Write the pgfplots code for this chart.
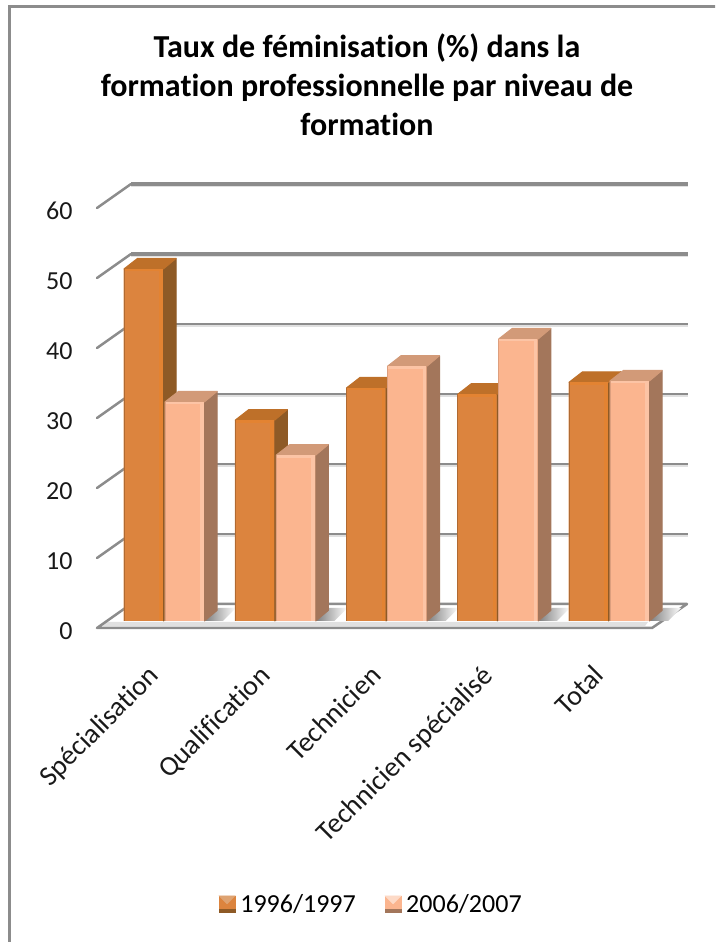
\documentclass[border=0pt]{standalone}
\usepackage{fontspec}
\setmainfont[RawFeature={-liga;-clig;-calt;-dlig}]{Carlito}
\usepackage{pgfplots}
\pgfplotsset{compat=1.18}
\definecolor{frontD}{HTML}{DC843E}
\definecolor{frontL}{HTML}{FBB58F}
\definecolor{sideD}{HTML}{8E5A26}
\definecolor{sideL}{HTML}{A3765B}
\definecolor{topD}{HTML}{BE7029}
\definecolor{topL}{HTML}{D29A78}
\definecolor{gridc}{HTML}{8C8C8C}

% 3D faces of a bar, hung on its top point; \vy is the value, 7pt per unit
\newcommand{\barfaces}[5]{%
  \pgfmathsetmacro\hh{7*\vy}%
  \pgftransformxshift{#1}%
  \pgfsetlinewidth{1pt}\pgfsetroundjoin
  \pgfsetfillcolor{#2}\pgfsetstrokecolor{#2}%
  \pgfpathmoveto{\pgfpoint{40pt}{0pt}}\pgfpathlineto{\pgfpoint{52.5pt}{10.5pt}}%
  \pgfpathlineto{\pgfpoint{52.5pt}{(10.5-\hh)*1pt}}\pgfpathlineto{\pgfpoint{40pt}{-\hh pt}}%
  \pgfpathclose\pgfusepath{fill,stroke}%
  \pgfsetfillcolor{#3}\pgfsetstrokecolor{#3}%
  \pgfpathmoveto{\pgfpoint{0.5pt}{0pt}}\pgfpathlineto{\pgfpoint{14pt}{10.5pt}}%
  \pgfpathlineto{\pgfpoint{52.5pt}{10.5pt}}\pgfpathlineto{\pgfpoint{40pt}{0pt}}%
  \pgfpathclose\pgfusepath{fill,stroke}%
  \pgfsetfillcolor{#4}%
  \pgfpathrectangle{\pgfpoint{0pt}{-\hh pt}}{\pgfpoint{1.2pt}{\hh pt}}\pgfusepath{fill}%
  \pgfsetfillcolor{#5}%
  \pgfpathrectangle{\pgfpoint{35.5pt}{-\hh pt}}{\pgfpoint{3.5pt}{\hh pt}}\pgfusepath{fill}%
  \pgfpathrectangle{\pgfpoint{1pt}{-2.5pt}}{\pgfpoint{38pt}{2.5pt}}\pgfusepath{fill}%
}
\pgfdeclareplotmark{facesD}{\barfaces{-40pt}{sideD}{topD}{frontD!80!black}{frontD!80!orange}}
\pgfdeclareplotmark{facesL}{\barfaces{1pt}{sideL}{topL}{frontL!88!black}{frontL!80!white}}

\pgfplotsset{
  barstyle/.style={ybar, bar width=40pt, draw=none, forget plot},
  facestyle/.style={only marks, scatter, scatter src=y, forget plot,
    visualization depends on={rawy \as \vy}},
  mainbox/.style={
    at={(97pt,314pt)}, anchor=south west, scale only axis,
    width=555pt, height=420pt, clip=false,
    xmin=-0.59775, xmax=4.39101,
    axis line style={draw=none}, tick style={draw=none},
  },
  % bars stand 7px above the front floor edge, so ymin=-1
  barbox/.style={mainbox, ymin=-1, ymax=59, ticks=none},
}

\newcommand{\legswatch}[3]{%
  \fill[#2] (0pt,-8pt) rectangle (16pt,8pt);
  \fill[#3] (0pt,8pt) -- (16pt,8pt) -- (8pt,0pt) -- cycle;
  \fill[#1] (0pt,-8pt) rectangle (16pt,-5pt);
}

\begin{document}
\begin{tikzpicture}
  \useasboundingbox (0,0) rectangle (715pt,942pt);
  \clip (0,0) rectangle (715pt,942pt);

  \begin{scope}[x=1pt,y=-1pt,yshift=942pt]
    \draw[gridc, line width=2.5pt] (9.5,950) -- (9.5,6.5) -- (725,6.5);
    % floor
    \fill[white] (97,628) -- (131,604) -- (687,604) -- (652,628) -- cycle;
    \fill[black!12] (104,622) -- (648,622) -- (645,626) -- (101,626) -- cycle;
    \draw[gridc, line width=2.5pt, line join=round] (97,628) -- (131,604) -- (687,604) -- (652,628) -- cycle;
    % walls
    \foreach \k in {1,...,6} {
      \pgfmathsetmacro\yb{604-70*\k}
      \pgfmathsetmacro\yf{628-70*\k}
      \pgfmathsetmacro\lw{\k>4 ? 3.5 : 2.2}
      \draw[black!12, line width=2pt] (131,\yb+2) -- (688,\yb+2);
      \draw[gridc, line width=\lw pt] (131,\yb) -- (688,\yb);
      \draw[gridc, line width=2.5pt, line cap=round] (97,\yf) -- (131,\yb);
    }
    % shadows on the floor
    \foreach \c in {0,...,4} {
      \pgfmathsetmacro\xs{205+111.25*\c}
      \shade[left color=black!50, right color=white]
        (\xs,621) -- (\xs+13,608) -- (\xs+31,608) -- (\xs+18,621) -- cycle;
    }
  \end{scope}

  % labels
  \begin{axis}[mainbox,
      ymin=0, ymax=60,
      ytick={0,10,...,60},
      xtick={0,1,2,3,4},
      xticklabels={Spécialisation,Qualification,Technicien,Technicien spécialisé,Total},
      /pgf/number format/assume math mode=true,
      ticklabel style={text=black!90},
      yticklabel style={font=\fontsize{26}{30}\selectfont, xshift=-21pt, yshift=-3pt},
      xticklabel style={font=\fontsize{28}{32}\selectfont, rotate=45, anchor=north east,
        yshift=-13pt, xshift=-37pt, inner sep=0pt},
      title={Taux de féminisation (\%) dans la\\formation professionnelle par niveau de\\formation},
      title style={at={(axis description cs:0.4865,1.278)}, anchor=center, align=center,
        font=\fontsize{32}{39}\selectfont\bfseries},
      legend columns=2,
      legend cell align=left,
      legend style={at={(axis description cs:0.497,-0.657)}, anchor=center, draw=none, fill=none,
        font=\fontsize{26}{30}\selectfont, nodes={inner xsep=5pt},
        /tikz/every even column/.append style={column sep=24pt}},
    ]
    \addlegendimage{legend image code/.code={\legswatch{sideD}{frontD}{topD!40!frontD!70!white}}}
    \addlegendentry{1996/1997}
    \addlegendimage{legend image code/.code={\legswatch{sideL}{frontL}{frontL!50!white}}}
    \addlegendentry{2006/2007}
  \end{axis}

  \begin{axis}[barbox]
    \addplot[barstyle, bar shift=-20pt, fill=frontD] coordinates {
      (0,50.3) (1,28.7) (2,33.3) (3,32.4) (4,34.1)
    };
    \addplot[facestyle, mark=facesD] coordinates {
      (0,50.3) (1,28.7) (2,33.3) (3,32.4) (4,34.1)
    };
  \end{axis}

  % own axis, since marks of an axis are drawn over all its bars
  \begin{axis}[barbox]
    \addplot[barstyle, bar shift=21pt, fill=frontL] coordinates {
      (0,31.3) (1,23.7) (2,36.4) (3,40.3) (4,34.3)
    };
    \addplot[facestyle, mark=facesL] coordinates {
      (0,31.3) (1,23.7) (2,36.4) (3,40.3) (4,34.3)
    };
  \end{axis}
\end{tikzpicture}
\end{document}
